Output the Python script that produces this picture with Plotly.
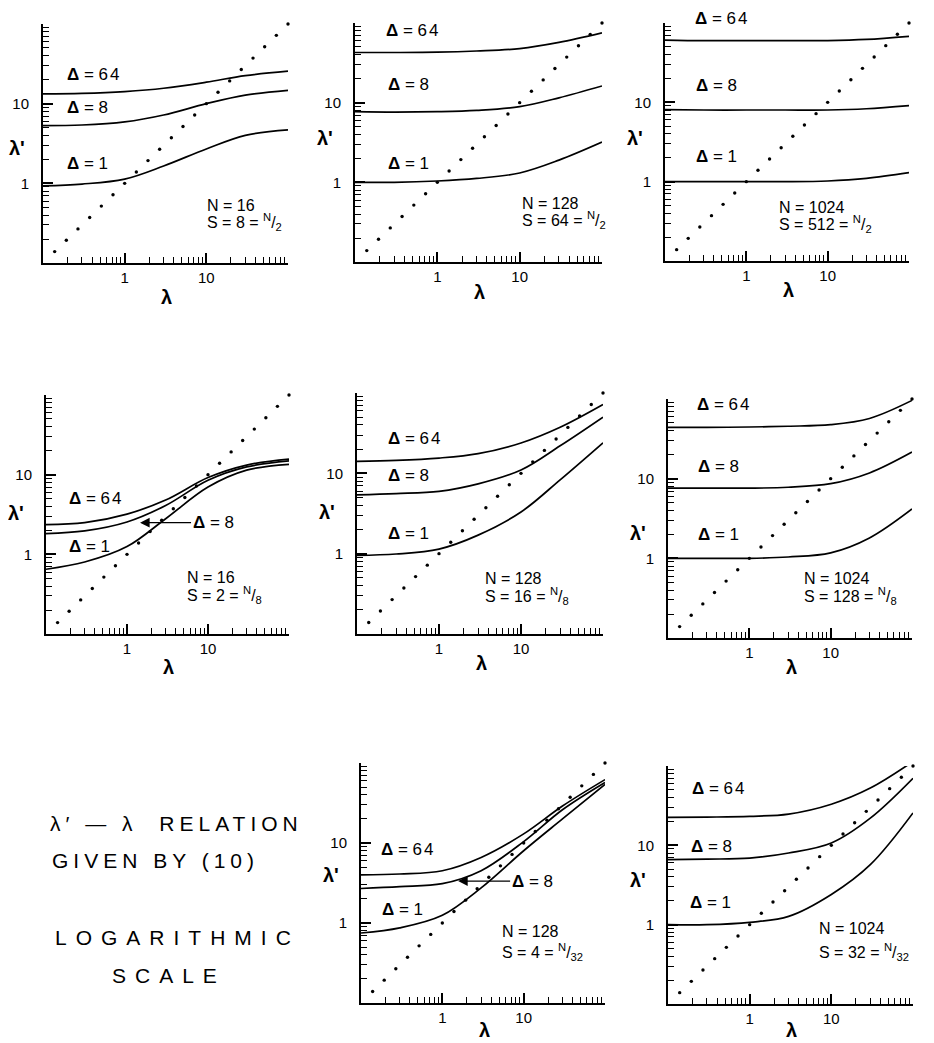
import plotly.graph_objects as go

# ---------------- data ----------------
lam = [0.1, 0.3, 1, 3, 10, 30, 100]
diag = [0.139, 0.193, 0.268, 0.373, 0.518, 0.72, 1.0, 1.39, 1.93, 2.68, 3.73,
        5.18, 7.2, 10, 13.9, 19.3, 26.8, 37.3, 51.8, 72, 100]

# N=16, S=8
n16_s8_d64 = [13.3, 13.5, 14.2, 15.6, 18.6, 22.5, 25.6]
n16_s8_d8 = [5.3, 5.4, 5.9, 7.2, 10.0, 12.8, 14.7]
n16_s8_d1 = [0.93, 0.98, 1.13, 1.65, 2.7, 4.0, 4.7]
# N=128, S=64
n128_s64_d64 = [42.6, 42.6, 43, 44.5, 47.7, 57, 75]
n128_s64_d8 = [7.7, 7.6, 7.7, 8.0, 8.9, 11.5, 16.2]
n128_s64_d1 = [1.0, 1.0, 1.04, 1.12, 1.31, 1.9, 3.2]
# N=1024, S=512
n1024_s512_d64 = [61, 60, 60, 60, 60, 62, 68]
n1024_s512_d8 = [8.1, 8.0, 8.0, 8.0, 8.0, 8.3, 9.1]
n1024_s512_d1 = [1.0, 1.0, 1.0, 1.0, 1.02, 1.1, 1.3]
# N=16, S=2
n16_s2_d64 = [2.36, 2.5, 3.2, 4.8, 9.2, 13.2, 15.7]
n16_s2_d8 = [1.82, 1.97, 2.55, 4.1, 8.5, 12.5, 14.9]
n16_s2_d1 = [0.65, 0.8, 1.25, 2.8, 7.0, 11.4, 13.5]
# N=128, S=16
n128_s16_d64 = [14.1, 14.5, 15.5, 17.6, 23.9, 37.5, 72]
n128_s16_d8 = [5.4, 5.6, 5.97, 7.4, 11.0, 22.0, 50]
n128_s16_d1 = [0.95, 0.99, 1.14, 1.7, 3.3, 8.3, 24]
# N=1024, S=128
n1024_s128_d64 = [44, 44, 44.5, 45.5, 47.6, 57, 96]
n1024_s128_d8 = [7.6, 7.6, 7.6, 7.8, 8.65, 11.8, 21.6]
n1024_s128_d1 = [1.0, 1.0, 1.0, 1.04, 1.17, 1.8, 4.16]
# N=128, S=4
n128_s4_d64 = [4.0, 4.1, 4.5, 6.6, 13.0, 29, 62]
n128_s4_d8 = [2.7, 2.85, 3.1, 4.5, 10.4, 26, 57]
n128_s4_d1 = [0.75, 0.87, 1.25, 2.75, 8.0, 20, 54]
# N=1024, S=32
n1024_s32_d64 = [22.5, 22.7, 23.2, 24.8, 33, 52.7, 114]
n1024_s32_d8 = [6.6, 6.7, 6.9, 8.0, 10.7, 22, 70]
n1024_s32_d1 = [1.0, 1.0, 1.07, 1.27, 2.4, 5.7, 25.6]

panel_N = ["16", "128", "1024", "16", "128", "1024", "128", "1024"]
panel_S = ["8", "64", "512", "2", "16", "128", "4", "32"]
panel_den = ["2", "2", "2", "8", "8", "8", "32", "32"]
panel_curves = [
    [n16_s8_d64, n16_s8_d8, n16_s8_d1],
    [n128_s64_d64, n128_s64_d8, n128_s64_d1],
    [n1024_s512_d64, n1024_s512_d8, n1024_s512_d1],
    [n16_s2_d64, n16_s2_d8, n16_s2_d1],
    [n128_s16_d64, n128_s16_d8, n128_s16_d1],
    [n1024_s128_d64, n1024_s128_d8, n1024_s128_d1],
    [n128_s4_d64, n128_s4_d8, n128_s4_d1],
    [n1024_s32_d64, n1024_s32_d8, n1024_s32_d1],
]
delta_labels = ["64", "8", "1"]
x_ticks = [1, 10]
x_ticktext = ["1", "10"]

# ---------------- layout geometry (page pixels) ----------------
OFF = 8                      # default body margin of the html page
W, H = 934 - OFF, 1043 - OFF  # figure size


def px(x):
    return (x - OFF) / W


def py(y):
    return 1 - (y - OFF) / H


boxes = [  # left, right, top, bottom
    (43, 288, 24, 263), (355, 602, 23, 262), (665, 909, 23, 261),
    (46, 289, 395, 634), (357, 603, 393, 634), (668, 912, 399, 638),
    (361, 605, 763, 1003), (668, 913, 766, 1004),
]
delta_pos = [
    [(0.088, 0.79), (0.088, 0.652), (0.088, 0.418)],
    [(0.117, 0.969), (0.125, 0.744), (0.125, 0.413)],
    [(0.116, 1.02), (0.119, 0.738), (0.119, 0.438)],
    [(0.086, 0.568), None, (0.086, 0.366)],
    [(0.117, 0.813), (0.117, 0.659), (0.117, 0.418)],
    [(0.110, 0.975), (0.114, 0.717), (0.114, 0.435)],
    [(0.072, 0.639), None, (0.076, 0.389)],
    [(0.089, 0.906), (0.086, 0.661), (0.082, 0.426)],
]
ns_pos = [(0.66, 0.24, 0.17), (0.67, 0.246, 0.177), (0.458, 0.225, 0.155),
          (0.572, 0.237, 0.163), (0.511, 0.231, 0.159), (0.548, 0.251, 0.174),
          (0.568, 0.30, 0.213), (0.607, 0.317, 0.22)]
ylab_y = [0.48, 0.52, 0.517, 0.506, 0.506, 0.44, 0.533, 0.52]
ylab_shift = [-26, -30, -30, -30, -30, -30, -30, -30]
xlab_shift = [-34, -30, -29, -33, -29, -29, -27, -26]
arrows = {3: (0.387, 0.466, 73), 6: (0.398, 0.508, 74)}

FONT = "Liberation Sans, Arial, sans-serif"
minor_vals = [v * m for m in (0.1, 1, 10) for v in range(2, 10)] + [100]

fig = go.Figure()
layout = dict(width=W, height=H, margin=dict(l=0, r=0, t=0, b=0),
              paper_bgcolor="white", plot_bgcolor="white", showlegend=False)
annotations = []

for i, (box, curves) in enumerate(zip(boxes, panel_curves)):
    k = "" if i == 0 else str(i + 1)
    xa, ya = "x" + k, "y" + k
    l, r, t, b = box
    axis_common = dict(type="log", range=[-1, 2], showgrid=False, zeroline=False,
                       showline=True, linecolor="black", linewidth=2,
                       ticks="inside", ticklen=10, tickwidth=1.5, tickcolor="black",
                       tickvals=x_ticks, ticktext=x_ticktext,
                       tickfont=dict(family=FONT, size=15, color="black"),
                       minor=dict(tickvals=minor_vals, ticks="inside", ticklen=6,
                                  tickwidth=1.2, tickcolor="black"))
    layout["xaxis" + k] = dict(axis_common, domain=[px(l), px(r)], anchor=ya,
                               ticklabelstandoff=0)
    layout["yaxis" + k] = dict(axis_common, domain=[py(b), py(t)], anchor=xa,
                               ticklabelstandoff=9)
    for c in curves:
        fig.add_trace(go.Scatter(x=lam, y=c, mode="lines", xaxis=xa, yaxis=ya,
                                 line=dict(color="black", width=1.7, shape="spline"),
                                 hoverinfo="skip"))
    fig.add_trace(go.Scatter(x=diag, y=diag, mode="markers", xaxis=xa, yaxis=ya,
                             marker=dict(color="black", size=3.4), cliponaxis=False,
                             hoverinfo="skip"))
    xd, yd = xa + " domain", ya + " domain"
    for pos, dl in zip(delta_pos[i], delta_labels):
        if pos is None:
            continue
        annotations.append(dict(x=pos[0], y=pos[1], xref=xd, yref=yd, xanchor="left",
                                yanchor="middle", showarrow=False,
                                text='<b>Δ</b> = <span style="letter-spacing:2px">' + dl + "</span>",
                                font=dict(family=FONT, size=17, color="black")))
    if i in arrows:
        ax_x, ax_y, off = arrows[i]
        annotations.append(dict(x=ax_x, y=ax_y, xref=xd, yref=yd, ax=off, ay=0,
                                showarrow=True, arrowhead=2, arrowsize=1.6, arrowwidth=1.2,
                                arrowcolor="black", text="<b>Δ</b> = 8",
                                font=dict(family=FONT, size=17, color="black")))
    nx, ny, sy = ns_pos[i]
    annotations.append(dict(x=nx, y=ny, xref=xd, yref=yd, xanchor="left", yanchor="middle",
                            showarrow=False, text="N = " + panel_N[i],
                            font=dict(family=FONT, size=16, color="black")))
    annotations.append(dict(x=nx, y=sy, xref=xd, yref=yd, xanchor="left", yanchor="middle",
                            showarrow=False,
                            text="S = " + panel_S[i] + " = <sup>N</sup>/<sub>" + panel_den[i] + "</sub>",
                            font=dict(family=FONT, size=16, color="black")))
    annotations.append(dict(x=0.505, y=0, xref=xd, yref=yd, yshift=xlab_shift[i],
                            xanchor="center", yanchor="middle", showarrow=False,
                            text="<b>λ</b>", font=dict(family=FONT, size=20, color="black")))
    annotations.append(dict(x=0, y=ylab_y[i], xref=xd, yref=yd, xshift=ylab_shift[i],
                            xanchor="center", yanchor="middle", showarrow=False,
                            text="<b>λ'</b>", font=dict(family=FONT, size=20, color="black")))

cap = [
    (48, 823, "λ′ — λ  RELATION", 5),
    (50, 860, "GIVEN BY (10)", 5),
    (53, 937, "LOGARITHMIC", 9),
    (110, 975, "SCALE", 9),
]
for cx, cy, txt, sp in cap:
    annotations.append(dict(x=px(cx), y=py(cy), xref="paper", yref="paper",
                            xanchor="left", yanchor="middle", showarrow=False,
                            text='<span style="letter-spacing:%dpx">%s</span>' % (sp, txt),
                            font=dict(family=FONT, size=21, color="black")))

layout["annotations"] = annotations
fig.update_layout(**layout)
fig.write_html("out.html")
